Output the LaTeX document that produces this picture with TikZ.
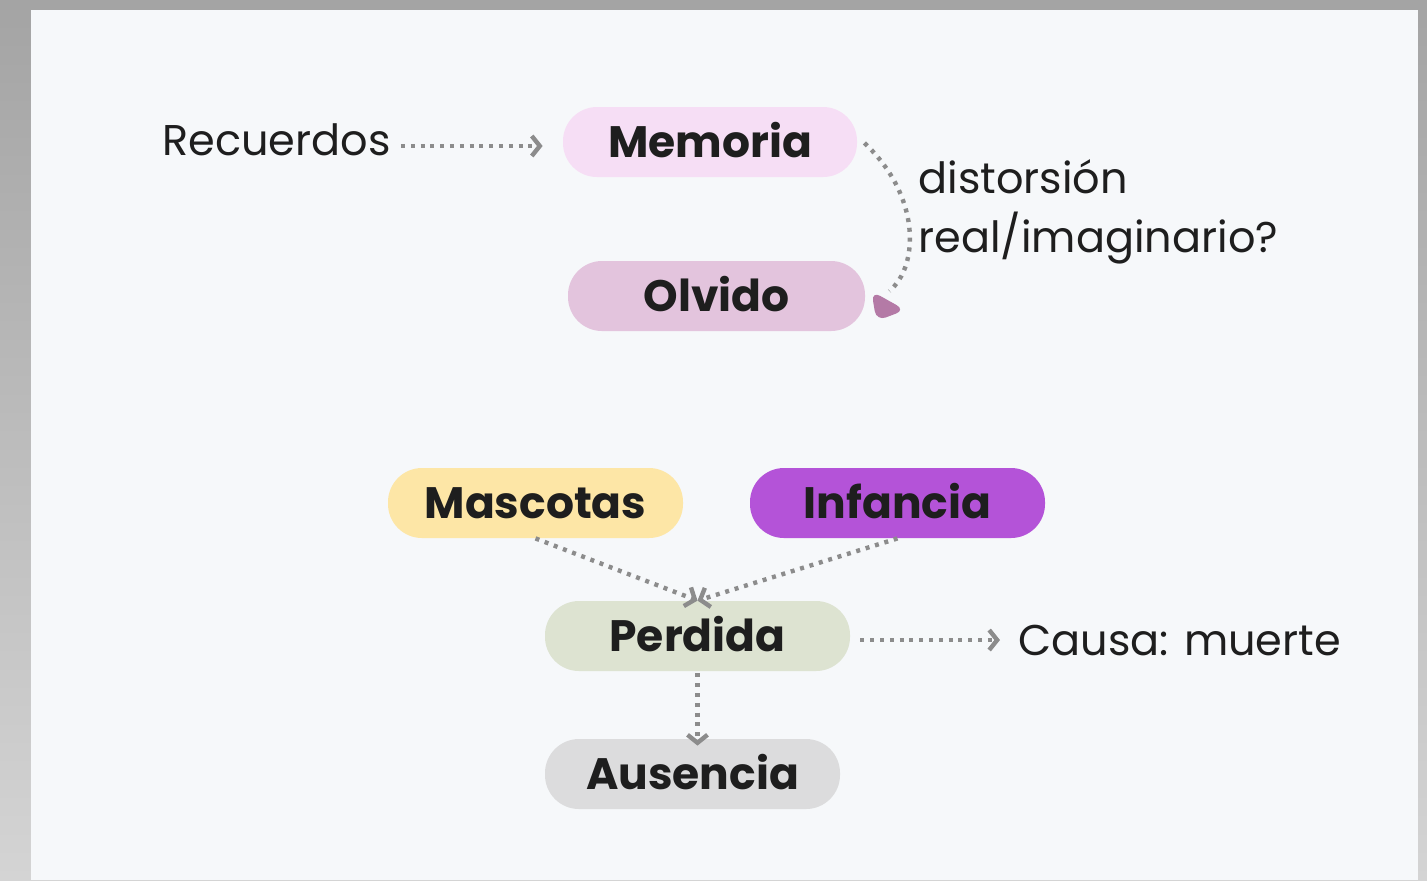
\documentclass[tikz,border=0pt]{standalone}
\usepackage{fontspec}
\setmainfont{Poppins}
\usetikzlibrary{arrows.meta,calc}
\definecolor{card}{HTML}{F6F8FA}
\definecolor{ink}{HTML}{1E1E1E}
\definecolor{dotgray}{HTML}{8C8C8C}
\definecolor{cMem}{HTML}{F6DEF5}
\definecolor{cOlv}{HTML}{E3C4DD}
\definecolor{cMas}{HTML}{FDE6A6}
\definecolor{cInf}{HTML}{B453D8}
\definecolor{cPer}{HTML}{DDE3D1}
\definecolor{cAus}{HTML}{DCDCDD}
\definecolor{cTip}{HTML}{B47AA6}
\definecolor{marbleTop}{HTML}{A4A4A4}
\definecolor{marbleBot}{HTML}{D4D4D4}
\begin{document}
\begin{tikzpicture}[x=0.5pt,y=-0.5pt,
  pill/.style={rounded corners=17pt, minimum height=35pt, inner sep=0pt,
    font=\fontsize{22}{28}\selectfont\bfseries, text=ink,
    text height=15.5pt, text depth=0pt},
  lbl/.style={inner sep=0pt, font=\fontsize{21.5}{28}\selectfont, text=ink},
  dotline/.style={draw=dotgray, line width=2.2pt, dash pattern=on 2pt off 2.9pt},
  chev/.style={-{Straight Barb[length=4pt,width=10pt,line width=2.2pt]}}
]
% background
\useasboundingbox (0,0) rectangle (1427,880);
\shade[top color=marbleTop, bottom color=marbleBot] (0,0) rectangle (1427,880);
\fill[card] (31,10) rectangle (1418,880);

% upper nodes
\node[pill, fill=cMem, minimum width=147pt] (mem) at (710,142) {Memoria};
\node[pill, fill=cOlv, minimum width=148.5pt] (olv) at (716.5,296) {Olvido};
\node[lbl, anchor=base west] (rec) at (162,155) {Recuerdos};
\node[lbl, anchor=base west] (dist1) at (918,193) {distorsión};
\node[lbl, anchor=base west] (dist2) at (918,252) {real/imaginario?};

% lower nodes
\node[pill, fill=cMas, minimum width=147.5pt] (mas) at (535.5,503) {Mascotas};
\node[pill, fill=cInf, minimum width=147.5pt] (inf) at (897.5,503) {Infancia};
\node[pill, fill=cPer, minimum width=152.5pt] (per) at (697.5,636) {Perdida};
\node[pill, fill=cAus, minimum width=147.5pt] (aus) at (692.5,774) {Ausencia};
\node[lbl, anchor=base west] (cau) at (1018,655) {Causa: muerte};

% connectors
\coordinate (recEnd) at ($(mem.west)+(-20,4)$);
\coordinate (recStart) at ($(rec.east)+(10,0)$);
\draw[dotline, chev] (recStart |- recEnd) -- (recEnd);
\coordinate (mstart) at ($(mem.east)+(7,1)$);
\coordinate (mend) at ($(olv.east)+(24,-5)$);
\draw[dotline] (mstart) .. controls (920,195) and (920,265) .. (mend);
\fill[cTip, rounded corners=5pt] ($(olv.east)+(6,-5)$) -- ($(olv.east)+(11,25)$) -- ($(olv.east)+(40,14)$) -- cycle;

\draw[dotline, chev] (mas.south) -- (per.north);
\draw[dotline, chev] (inf.south) -- (per.north);
\draw[dotline, chev] ($(per.south)+(0,2)$) -- ($(per.south |- aus.north)+(0,7)$);
\coordinate (cauEnd) at ($(cau.west)+(-18,0)$);
\coordinate (perStart) at ($(per.east)+(10,0)$);
\draw[dotline, chev] (perStart |- cauEnd) -- (cauEnd);
\end{tikzpicture}
\end{document}
